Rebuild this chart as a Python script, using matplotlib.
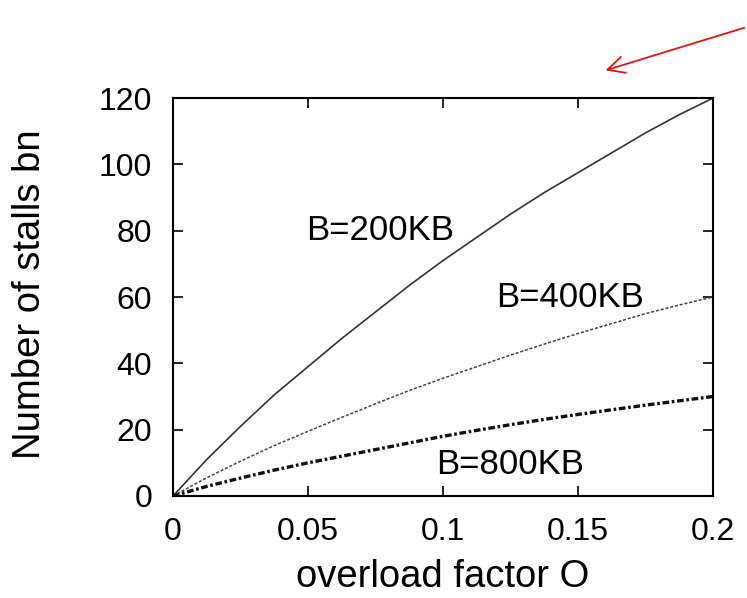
import matplotlib
matplotlib.use("Agg")
import matplotlib.pyplot as plt
from matplotlib.patches import FancyArrowPatch

# overload factor O
overload = [0, 0.0125, 0.025, 0.0375, 0.05, 0.0625, 0.075, 0.0875, 0.1,
            0.1125, 0.125, 0.1375, 0.15, 0.1625, 0.175, 0.1875, 0.2]
# number of stalls for each buffer size
stalls_200 = [0, 11, 21, 30.5, 39, 47.5, 55.5, 63.5, 71,
              78, 85, 91.5, 97.5, 103.5, 109.5, 115, 120]
stalls_400 = [0, 5.5, 10.5, 15.2, 19.5, 23.7, 27.8, 31.8, 35.5,
              39, 42.5, 45.8, 49, 52, 55, 57.6, 60]
stalls_800 = [0, 2.9, 5.4, 7.8, 10, 12, 14, 16, 18,
              19.8, 21.5, 23.1, 24.6, 26, 27.4, 28.7, 30]

x_ticks = [0, 0.05, 0.1, 0.15, 0.2]
x_tick_labels = ["0", "0.05", "0.1", "0.15", "0.2"]
y_ticks = [0, 20, 40, 60, 80, 100, 120]

plt.rcParams["font.family"] = ["Liberation Sans", "DejaVu Sans"]

fig = plt.figure(figsize=(7.47, 5.98), dpi=100)
ax = fig.add_axes([0.2316, 0.1706, 0.7229, 0.6654])

ax.plot(overload, stalls_200, "-", color="#333333", linewidth=1.2)
ax.plot(overload, stalls_400, color="#444444", linewidth=1.1, linestyle=(0, (2, 1.2)))
ax.plot(overload, stalls_800, color="#111111", linewidth=2.4, linestyle=(0, (2, 0.8, 0.8, 0.8)))

ax.text(0.0768, 80, "B=200KB", fontsize=25, ha="center", va="center")
ax.text(0.147, 60, "B=400KB", fontsize=25, ha="center", va="center")
ax.text(0.125, 9.4, "B=800KB", fontsize=25, ha="center", va="center")

ax.set_xlim(0, 0.2)
ax.set_ylim(0, 120)
ax.set_xticks(x_ticks)
ax.set_xticklabels(x_tick_labels)
ax.set_yticks(y_ticks)
ax.tick_params(direction="in", length=7, width=1.2, labelsize=23,
               top=True, right=True, pad=15)
for s in ax.spines.values():
    s.set_linewidth(1.5)

ax.set_xlabel("overload factor O", fontsize=27.5)
ax.set_ylabel("Number of stalls bn", fontsize=27.5)
ax.xaxis.set_label_coords(0.5, -0.158)
ax.yaxis.set_label_coords(-0.232, 0.506)

# red annotation arrow in the top right corner
fig.patches.append(FancyArrowPatch(
    (1.0, 0.955), (0.807, 0.881), transform=fig.transFigure,
    arrowstyle="->,head_length=12,head_width=6", color="#ee1111",
    linewidth=1.3, mutation_scale=1))

fig.savefig("out.png", dpi=100)
